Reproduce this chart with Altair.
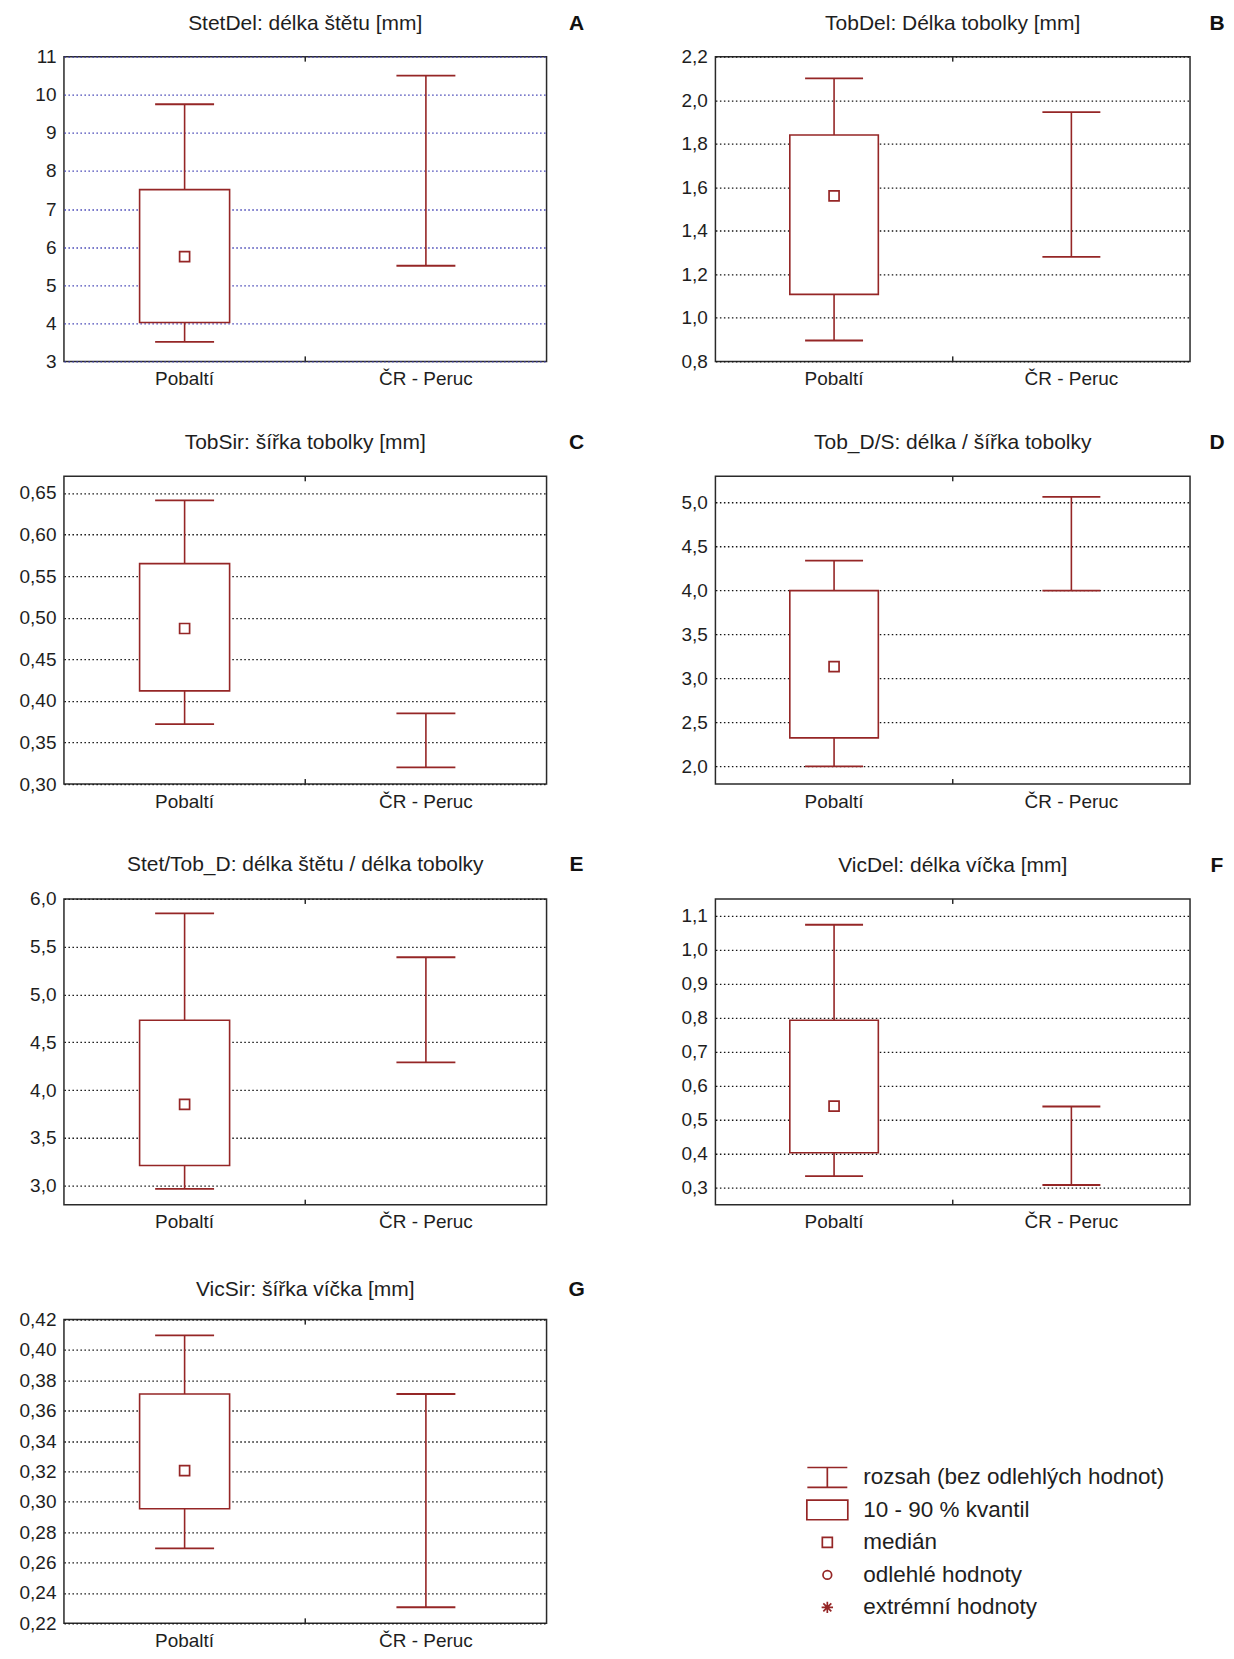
import altair as alt
import pandas as pd

FONT = "Liberation Sans"
RED = "#952626"
TXT = "#1e1e1e"
FRAME = "#2a2a2a"

cats = ["Pobaltí", "ČR - Peruc"]
titles = [
    "StetDel: délka štětu [mm]",
    "TobDel: Délka tobolky [mm]",
    "TobSir: šířka tobolky [mm]",
    "Tob_D/S: délka / šířka tobolky",
    "Stet/Tob_D: délka štětu / délka tobolky",
    "VicDel: délka víčka [mm]",
    "VicSir: šířka víčka [mm]",
]
letters = ["A", "B", "C", "D", "E", "F", "G"]
domains = [[3, 11], [0.8, 2.2], [0.30, 0.67], [1.8, 5.3], [2.8, 6.0], [0.25, 1.15], [0.22, 0.42]]
tick_values = [
    [3, 4, 5, 6, 7, 8, 9, 10, 11],
    [0.8, 1.0, 1.2, 1.4, 1.6, 1.8, 2.0, 2.2],
    [0.30, 0.35, 0.40, 0.45, 0.50, 0.55, 0.60, 0.65],
    [2.0, 2.5, 3.0, 3.5, 4.0, 4.5, 5.0],
    [3.0, 3.5, 4.0, 4.5, 5.0, 5.5, 6.0],
    [0.3, 0.4, 0.5, 0.6, 0.7, 0.8, 0.9, 1.0, 1.1],
    [0.22, 0.24, 0.26, 0.28, 0.30, 0.32, 0.34, 0.36, 0.38, 0.40, 0.42],
]
decimals = [0, 1, 2, 1, 1, 1, 2]
grid_colors = ["#4040b4", "#141414", "#141414", "#141414", "#141414", "#141414", "#141414"]

# Pobaltí: range (without outliers), 10 % and 90 % quantile, median
balt_min = [3.51, 0.896, 0.372, 2.0, 2.965, 0.334, 0.2693]
balt_q10 = [4.02, 1.108, 0.412, 2.325, 3.21, 0.403, 0.2955]
balt_med = [5.75, 1.56, 0.487, 3.135, 3.85, 0.54, 0.3205]
balt_q90 = [7.51, 1.84, 0.565, 4.0, 4.73, 0.793, 0.371]
balt_max = [9.75, 2.10, 0.641, 4.34, 5.85, 1.074, 0.4096]
# ČR - Peruc: range only
cr_min = [5.51, 1.28, 0.320, 4.0, 4.29, 0.308, 0.2306]
cr_max = [10.5, 1.945, 0.385, 5.065, 5.39, 0.539, 0.371]

legend_labels = [
    "rozsah (bez odlehlých hodnot)",
    "10 - 90 % kvantil",
    "medián",
    "odlehlé hodnoty",
    "extrémní hodnoty",
]
legend_shapes = [
    "M-1,-0.5H1M0,-0.5V0.5M-1,0.5H1",
    "M-1,-0.48H1V0.48H-1Z",
    "square",
    "circle",
    "M-1,0H1M0,-1V1M-0.7,-0.7L0.7,0.7M-0.7,0.7L0.7,-0.7",
]
legend_sizes = [1600, 1681, 100, 75, 130]
legend_rows = [0, 1, 2, 3, 4]

widths = [483, 475, 483, 475, 483, 475, 483]
heights = [305, 305, 308, 308, 306, 306, 304]
title_dy = [-33, -33, -33, -33, -34, -33, -30]
letter_dx = [30, 27, 30, 27, 30, 27, 30]


def panel(i):
    W, H = widths[i], heights[i]
    xscale = alt.Scale(type="band", domain=cats, paddingInner=0, paddingOuter=0)
    xaxis = alt.Axis(title=None, labelAngle=0, ticks=False, domain=False,
                     labelPadding=8, labelFontSize=19)
    xenc = alt.X("cat:N", scale=xscale, axis=xaxis)
    d = decimals[i]
    if d == 0:
        lexpr = "format(datum.value, 'd')"
    else:
        lexpr = f"replace(format(datum.value, '.{d}f'), '.', ',')"
    yaxis = alt.Axis(values=tick_values[i], labelExpr=lexpr, title=None, ticks=False,
                     domain=False, grid=True, gridDash=[1.5, 2.5], gridColor=grid_colors[i],
                     gridWidth=1.3, labelPadding=8, labelFlush=False, labelFontSize=19)
    yscale = alt.Scale(domain=domains[i], nice=False, zero=False)

    def yenc(f):
        return alt.Y(f"{f}:Q", scale=yscale, axis=yaxis)

    rng = pd.DataFrame({"cat": cats, "lo": [balt_min[i], cr_min[i]], "hi": [balt_max[i], cr_max[i]]})
    caps = pd.DataFrame({"cat": cats * 2,
                         "v": [balt_min[i], cr_min[i], balt_max[i], cr_max[i]]})
    box = pd.DataFrame({"cat": [cats[0]], "q10": [balt_q10[i]], "q90": [balt_q90[i]],
                        "med": [balt_med[i]]})
    cap = round(0.246 * W / 2)

    whisk = alt.Chart(rng).mark_rule(color=RED, strokeWidth=1.6).encode(
        x=xenc, y=yenc("lo"), y2="hi:Q")
    boxl = alt.Chart(box).mark_bar(width={"band": 0.373}, fill="white", stroke=RED,
                                   strokeWidth=1.6).encode(x=xenc, y=yenc("q10"), y2="q90:Q")
    capl = alt.Chart(caps).mark_tick(color=RED, size=cap, thickness=1.8, opacity=1).encode(
        x=xenc, y=yenc("v"))
    medl = alt.Chart(box).mark_point(shape="square", size=100, filled=False, color=RED,
                                     strokeWidth=1.7, opacity=1).encode(x=xenc, y=yenc("med"))
    mid = pd.DataFrame({"cat": [cats[1]]})
    midx = alt.X("cat:N", bandPosition=0, scale=xscale, axis=xaxis)
    midtop = alt.Chart(mid).mark_rule(color=FRAME, strokeWidth=1.5).encode(
        x=midx, y=alt.value(0), y2=alt.value(5))
    midbot = alt.Chart(mid).mark_rule(color=FRAME, strokeWidth=1.5).encode(
        x=midx, y=alt.value(H - 5), y2=alt.value(H))
    tl = alt.Chart(pd.DataFrame({"t": [titles[i]]})).mark_text(
        fontSize=21, font=FONT, color=TXT, baseline="middle", align="center").encode(
        text="t:N", x=alt.value(W / 2), y=alt.value(title_dy[i]))
    lt = alt.Chart(pd.DataFrame({"t": [letters[i]]})).mark_text(
        fontSize=21, font=FONT, fontWeight="bold", color="#111111", baseline="middle",
        align="center").encode(text="t:N", x=alt.value(W + letter_dx[i]),
                               y=alt.value(title_dy[i]))
    return alt.layer(whisk, boxl, capl, medl, midtop, midbot, tl, lt).properties(
        width=W, height=H)


panels = [panel(i) for i in range(7)]

leg = pd.DataFrame({"label": legend_labels, "row": legend_rows, "shape": legend_shapes,
                    "size": legend_sizes})
ly = alt.Y("row:Q", scale=alt.Scale(domain=[0, 4], range=[158, 288]), axis=None)
sym = alt.Chart(leg).mark_point(filled=False, color=RED, strokeWidth=1.7, opacity=1).encode(
    x=alt.value(112), y=ly, shape=alt.Shape("shape:N", scale=None),
    size=alt.Size("size:Q", scale=None))
txt = alt.Chart(leg).mark_text(align="left", baseline="middle", fontSize=22.5, font=FONT,
                               color=TXT).encode(x=alt.value(148), y=ly, text="label:N")
legend = alt.layer(sym, txt).properties(width=475, height=304,
                                        view=alt.ViewBackground(stroke="transparent"))

chart = alt.concat(*panels, legend, columns=2, spacing={"row": 115, "column": 169},
                   bounds="flush", align="each").properties(
    padding={"left": 10, "top": 3, "right": 0, "bottom": 0}
).configure_view(stroke=FRAME, strokeWidth=1.5).configure_axis(
    labelFont=FONT, labelColor=TXT, labelFontSize=19
).configure_text(font=FONT)

chart.save("out.html", embed_options={"renderer": "svg", "actions": False})
